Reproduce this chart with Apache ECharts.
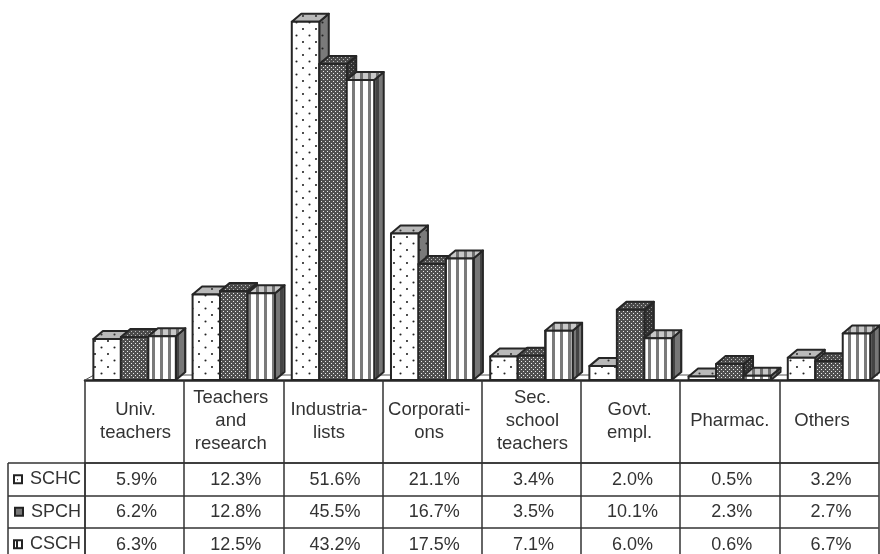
<!DOCTYPE html>
<html>
<head>
<meta charset="utf-8">
<style>html,body{margin:0;padding:0;background:#fff}#c{width:880px;height:554px}</style>
<script src="https://cdn.jsdelivr.net/npm/echarts@6/dist/echarts.min.js"></script>
</head>
<body>
<div id="c"></div>
<script>
// Occupational share of each channel, in percent
const categories = ['Univ.\nteachers', 'Teachers\nand\nresearch', 'Industria-\nlists', 'Corporati-\nons',
  'Sec.\nschool\nteachers', 'Govt.\nempl.', 'Pharmac.', 'Others'];
const seriesNames = ['SCHC', 'SPCH', 'CSCH'];
const schc = [5.9, 12.3, 51.6, 21.1, 3.4, 2.0, 0.5, 3.2];
const spch = [6.2, 12.8, 45.5, 16.7, 3.5, 10.1, 2.3, 2.7];
const csch = [6.3, 12.5, 43.2, 17.5, 7.1, 6.0, 0.6, 6.7];

// Sideways shift of each header label inside its cell, in pixels
const headerShift = [1, -3, -4, -3, 1, -1, 0, -7];

const INK = '#262626';
const DEPTH_X = 9.5, DEPTH_Y = 8;

function tile(w, h, paint) {
  const cv = document.createElement('canvas');
  cv.width = w; cv.height = h;
  paint(cv.getContext('2d'));
  return cv;
}
function pattern(cv) { return { image: cv, repeat: 'repeat' }; }

function dots(base, dot) {
  return tile(13, 13, g => {
    g.fillStyle = base; g.fillRect(0, 0, 13, 13);
    g.fillStyle = dot;
    g.beginPath(); g.arc(4, 3, 1.05, 0, Math.PI * 2); g.fill();
    g.beginPath(); g.arc(10.5, 9.5, 1.05, 0, Math.PI * 2); g.fill();
  });
}
function mesh(base, hole) {
  return tile(4, 4, g => {
    g.fillStyle = base; g.fillRect(0, 0, 4, 4);
    g.fillStyle = hole;
    g.fillRect(1, 1, 1, 1);
    g.fillRect(3, 3, 1, 1);
  });
}
function stripes(base, band) {
  return tile(8, 4, g => {
    g.fillStyle = base; g.fillRect(0, 0, 8, 4);
    g.fillStyle = band; g.fillRect(0, 0, 3, 4);
  });
}

// Front, top and side fill of each series
const faces = [
  { front: pattern(dots('#ffffff', '#222222')), top: pattern(dots('#b9b9b9', '#333333')), side: pattern(dots('#7a7a7a', '#222222')) },
  { front: pattern(mesh('#505050', '#ececec')), top: pattern(mesh('#4a4a4a', '#bbbbbb')), side: pattern(mesh('#333333', '#888888')) },
  { front: pattern(stripes('#ffffff', '#7a7a7a')), top: pattern(stripes('#c8c8c8', '#6f6f6f')), side: pattern(stripes('#777777', '#444444')) }
];

function boxSeries(name, values, index) {
  return {
    name, type: 'custom', xAxisIndex: 0, yAxisIndex: 0, clip: false, z: 3 + index,
    data: values.map((v, i) => [i, v]),
    encode: { x: 0, y: 1 },
    renderItem(params, api) {
      const top = api.coord([api.value(0), api.value(1)]);
      const base = api.coord([api.value(0), 0]);
      const w = api.size([1, 0])[0] * 0.277;
      const x0 = top[0] + (index - 1.5) * w;
      const x1 = x0 + w;
      const f = faces[index];
      const line = { stroke: INK, lineWidth: 2, lineJoin: 'round' };
      const poly = (points, fill) => ({
        type: 'polygon', shape: { points }, style: Object.assign({ fill }, line)
      });
      return {
        type: 'group',
        children: [
          poly([[x1, top[1]], [x1 + DEPTH_X, top[1] - DEPTH_Y], [x1 + DEPTH_X, base[1] - DEPTH_Y], [x1, base[1]]], f.side),
          poly([[x0, top[1]], [x0 + DEPTH_X, top[1] - DEPTH_Y], [x1 + DEPTH_X, top[1] - DEPTH_Y], [x1, top[1]]], f.top),
          poly([[x0, top[1]], [x1, top[1]], [x1, base[1]], [x0, base[1]]], f.front)
        ]
      };
    }
  };
}

// One row of table figures, placed through the table's own axes
function rowSeries(name, values, row) {
  return {
    name: name + ' table', type: 'custom', xAxisIndex: 1, yAxisIndex: 1, silent: true, clip: false, z: 6,
    data: values.map((v, i) => [i, row, v]),
    encode: { x: 0, y: 1 },
    renderItem(params, api) {
      const p = api.coord([api.value(0), api.value(1)]);
      return {
        type: 'text',
        style: {
          x: p[0] + 2, y: p[1] + 0.5, align: 'center', verticalAlign: 'middle',
          text: api.value(2).toFixed(1) + '%',
          fill: '#333', font: '18px "Liberation Sans"'
        }
      };
    }
  };
}

function keyTile(i) {
  return tile(10, 10, g => {
    g.fillStyle = '#fff'; g.fillRect(0, 0, 10, 10);
    if (i === 0) { g.fillStyle = '#222'; g.fillRect(4, 5, 1, 1); }
    else if (i === 1) { g.fillStyle = '#777'; g.fillRect(1, 1, 8, 8); }
    else { g.fillStyle = '#222'; g.fillRect(3, 0, 2, 10); }
    g.strokeStyle = '#222'; g.lineWidth = 2; g.strokeRect(1, 1, 8, 8);
  });
}

const chart = echarts.init(document.getElementById('c'));
const band = { left: 85, width: 793.6 };
chart.setOption({
  animation: false,
  backgroundColor: '#fff',
  grid: [
    { left: band.left, width: band.width, top: 12, height: 368, outerBoundsMode: 'none' },
    { left: band.left, width: band.width, top: 463, height: 97.5, outerBoundsMode: 'none' }
  ],
  xAxis: [
    {
      type: 'category', gridIndex: 0,
      data: categories.map((value, i) => ({
        value,
        textStyle: {
          align: 'center', verticalAlign: 'middle',
          padding: headerShift[i] < 0 ? [0, -2 * headerShift[i], 0, 0] : [0, 0, 0, 2 * headerShift[i]]
        }
      })),
      axisLine: { lineStyle: { color: INK, width: 2.5 } },
      axisTick: { show: true, length: 83, lineStyle: { color: '#333', width: 1.5 } },
      axisLabel: {
        interval: 0, margin: 41, verticalAlign: 'middle', align: 'center', color: '#333',
        fontFamily: 'Liberation Sans', fontSize: 18.5, lineHeight: 23
      }
    },
    {
      type: 'category', gridIndex: 1, data: categories, position: 'top',
      axisLine: { lineStyle: { color: '#333', width: 1.5 } },
      axisTick: { show: false }, axisLabel: { show: false },
      splitLine: { show: true, interval: 0, lineStyle: { color: '#333', width: 1.5 } }
    }
  ],
  yAxis: [
    { type: 'value', gridIndex: 0, min: 0, max: 53, show: false },
    {
      type: 'category', gridIndex: 1, inverse: true, data: seriesNames,
      axisLine: { show: true, lineStyle: { color: '#333', width: 1.5 } },
      axisTick: { show: true, length: 77, lineStyle: { color: '#333', width: 1.5 } },
      splitLine: { show: true, interval: 0, lineStyle: { color: '#333', width: 1.5 } },
      axisLabel: {
        interval: 0, margin: 4, align: 'right', color: '#333',
        fontFamily: 'Liberation Sans', fontSize: 18,
        formatter: (v, i) => '{k' + i + '|}{gap|}' + v,
        rich: {
          k0: { width: 10, height: 10, backgroundColor: { image: keyTile(0) } },
          k1: { width: 10, height: 10, backgroundColor: { image: keyTile(1) } },
          k2: { width: 10, height: 10, backgroundColor: { image: keyTile(2) } },
          gap: { width: 7 }
        }
      }
    }
  ],
  graphic: [
    // Floor edge behind the boxes and the left border of the row-label column
    { type: 'polyline', z: 1, silent: true, shape: { points: [[85, 380], [94, 375], [878, 375]] }, style: { stroke: '#555', lineWidth: 1, fill: null } },
    { type: 'line', z: 1, silent: true, shape: { x1: 8, y1: 463, x2: 8, y2: 554 }, style: { stroke: '#333', lineWidth: 1.5 } }
  ],
  series: [
    boxSeries(seriesNames[0], schc, 0),
    boxSeries(seriesNames[1], spch, 1),
    boxSeries(seriesNames[2], csch, 2),
    rowSeries(seriesNames[0], schc, 0),
    rowSeries(seriesNames[1], spch, 1),
    rowSeries(seriesNames[2], csch, 2)
  ]
});
</script>
</body>
</html>
